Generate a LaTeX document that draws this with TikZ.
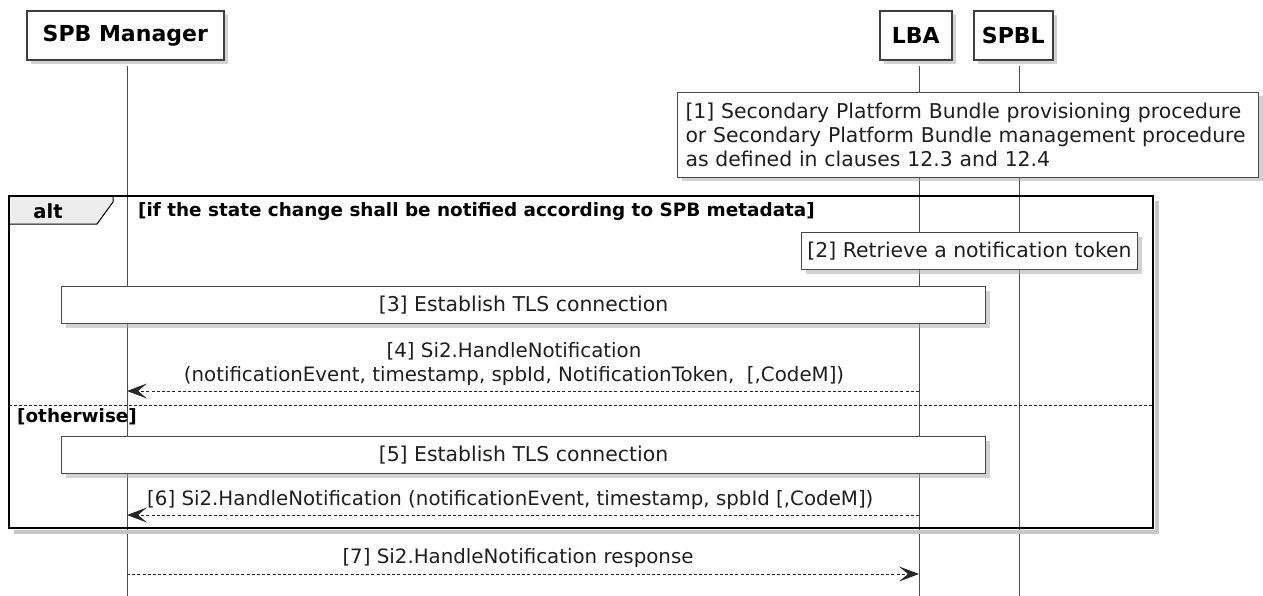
\documentclass[tikz,border=0pt]{standalone}
\usepackage{fontspec}
\setmainfont{DejaVu Sans}
\usetikzlibrary{shadows,arrows.meta}
\begin{document}
\begin{tikzpicture}[x=1pt,y=-1pt,
  every node/.style={inner sep=0pt, text=black!88, font=\fontsize{19.8}{24}\selectfont},
  shade/.style={drop shadow={shadow xshift=4pt, shadow yshift=-4pt, fill=black!35, opacity=0.5}},
  partbox/.style={draw=black!75, line width=1.6pt, fill=white, minimum height=49pt, shade, text=black,
    font=\bfseries\fontsize{22}{26}\selectfont},
  notebox/.style={draw=black!72, line width=1pt, fill=white, shade, font=\fontsize{20.4}{24}\selectfont},
  life/.style={draw=black!70, line width=1pt},
  msg/.style={draw=black!85, line width=1pt, dash pattern=on 3pt off 2.2pt,
    -{Stealth[length=20pt, width=15pt, inset=9pt]}},
  boldlbl/.style={text=black, font=\bfseries\fontsize{18.4}{22}\selectfont},
  divider/.style={draw=black!85, line width=1pt, dash pattern=on 3pt off 2pt},
  altframe/.style={draw=black, line width=2.6pt},
  altshadow/.style={draw=black!22, line width=3.5pt}
]
\useasboundingbox (0,0) rectangle (1263,596);

% participants
\node[partbox, minimum width=197pt, anchor=north west] (spb) at (26,10) {SPB Manager};
\node[partbox, minimum width=72pt, anchor=north west] (lba) at (879,10) {LBA};
\node[partbox, minimum width=79pt, anchor=north west] (spbl) at (973,10) {SPBL};

% lifelines
\coordinate (spbT) at (127,66);  \coordinate (spbB) at (127,596);
\coordinate (lbaT) at (919,66);  \coordinate (lbaB) at (919,596);
\coordinate (spblT) at (1019,66); \coordinate (spblB) at (1019,596);
\draw[life] (spbT) -- (spbB);
\draw[life] (lbaT) -- (lbaB);
\draw[life] (spblT) -- (spblB);

% note 1
\node[notebox, anchor=north west, minimum width=581pt, minimum height=85pt, inner xsep=8pt,
  text width=565pt, align=left] (n1) at (677,92)
  {[1] Secondary Platform Bundle provisioning procedure\\or Secondary Platform Bundle management procedure\\as defined in clauses 12.3 and 12.4};

% alt frame
\coordinate (altTL) at (9,196);
\coordinate (altBR) at (1153,528);
\draw[altshadow] (1157,201) -- (1157,532) -- (14,532);
\draw[fill=black!7, draw=black, line width=1pt] (9,196) -- (113,196) -- (113,202) -- (97,224) -- (9,224) -- cycle;
\draw[altframe] (altTL) rectangle (altBR);
\node[text=black, font=\bfseries\fontsize{19.5}{24}\selectfont] (altlbl) at (48,211) {alt};
\node[boldlbl, anchor=west] (cond) at (138,211) {[if the state change shall be notified according to SPB metadata]};

% note 2
\node[notebox, anchor=north west, minimum width=336pt, minimum height=37pt] (n2) at (801,232) {[2] Retrieve a notification token};

% note 3
\node[notebox, anchor=north west, minimum width=924pt, minimum height=37pt] (n3) at (61,286) {[3] Establish TLS connection};

% message 4
\coordinate (m4a) at (919,391); \coordinate (m4b) at (127,391);
\draw[msg] (m4a) -- (m4b);
\node[align=center] (l4) at (514,364) {[4] Si2.HandleNotification\\(notificationEvent, timestamp, spbId, NotificationToken,\ \ [,CodeM])};

% else divider
\coordinate (divL) at (9,405); \coordinate (divR) at (1153,405);
\draw[divider] (divL) -- (divR);
\node[boldlbl, anchor=west] (oth) at (17,417) {[otherwise]};

% note 5
\node[notebox, anchor=north west, minimum width=924pt, minimum height=37pt] (n5) at (61,436) {[5] Establish TLS connection};

% message 6
\coordinate (m6a) at (919,515); \coordinate (m6b) at (127,515);
\draw[msg] (m6a) -- (m6b);
\node[anchor=west] (l6) at (147,500) {[6] Si2.HandleNotification (notificationEvent, timestamp, spbId [,CodeM])};

% message 7
\coordinate (m7a) at (127,574); \coordinate (m7b) at (919,574);
\draw[msg] (m7a) -- (m7b);
\node (l7) at (518,558) {[7] Si2.HandleNotification response};
\end{tikzpicture}
\end{document}
